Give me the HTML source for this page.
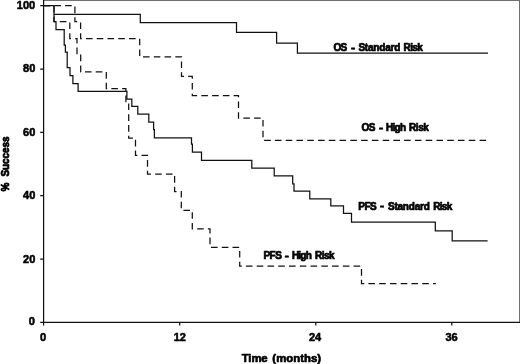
<!DOCTYPE html>
<html>
<head>
<meta charset="utf-8">
<title>Survival curves</title>
<style>
html,body{margin:0;padding:0;background:#fff;}
body{width:520px;height:364px;overflow:hidden;}
svg{display:block;}
text{font-family:"Liberation Sans",Arial,sans-serif;font-weight:bold;fill:#000;white-space:pre;stroke:#000;stroke-width:0.6px;stroke-linejoin:round;}
.ax{stroke:#111;stroke-width:1.25;fill:none;}
.fr{stroke:#707070;stroke-width:1;fill:none;}
.c{stroke:#111;stroke-width:1.25;fill:none;stroke-linejoin:miter;}
.d{stroke:#111;stroke-width:1.25;fill:none;stroke-dasharray:6.6 4.166;}
</style>
</head>
<body>
<svg width="520" height="364" viewBox="0 0 520 364">
<rect x="0" y="0" width="520" height="364" fill="#fff"/>
<!-- frame -->
<path class="fr" d="M43.6,0.5 H520 M519.5,0 V322.4"/>
<!-- axes -->
<path class="ax" d="M43.6,0 V325.6 M40.2,322.4 H520"/>
<!-- y ticks -->
<path class="ax" d="M40.2,5.6 H43.6 M40.2,69 H43.6 M40.2,132.3 H43.6 M40.2,195.7 H43.6 M40.2,259.1 H43.6"/>
<!-- x ticks -->
<path class="ax" d="M179.7,322.5 V325.6 M315.8,322.5 V325.6 M451.8,322.5 V325.6"/>
<!-- y axis title -->
<text transform="translate(9.1,191.5) rotate(-90) scale(0.9,1)" style="font-size:11px;stroke-width:0.8px"><tspan x="0">%</tspan> <tspan x="16.6">Success</tspan></text>
<!-- dashed curves -->
<path class="d" d="M43.6,5.6 H74.9 V21.6 H80.6 V38.6 H139.7 V56.9 H181.5 V76.4 H192.3 V95.5 H238.5 V118.1 H263 V140.3 H486"/>
<path class="d" d="M43.6,5.6 H54 V21.7 H69.8 V38.6 H77 V54.8 H80.7 V71.9 H106.3 V88.6 H125.9 V102.5 H128.7 V138.2 H135.5 V155.3 H147.5 V174 H174.6 V191.5 H181.3 V210.3 H192.3 V228.9 H210 V247.3 H239.7 V266.2 H361.5 V283.7 H435.8"/>
<!-- solid curves -->
<path class="c" d="M43.6,5.6 H54 V14.3 H140.3 V22.7 H236.5 V32.4 H276.6 V43.1 H297.4 V53.1 H488"/>
<path class="c" d="M54,14.3 V21.6 H56 V29.7 H64.2 V45.2 H65.4 V52.2 H67.2 V67.7 H70 V75.7 H72.9 V83.6 H78.1 V91.4 H126.9 V99.2 H131.8 V106.4 H137.8 V114.2 H148.8 V122.1 H153.6 V129.5 H154.4 V137.8 H191.5 V144 H192.4 V152.2 H201.5 V160.3 H251.8 V168.2 H274.2 V175.8 H292.7 V183.8 H294 V191.2 H309.8 V198.8 H330.8 V205.8 H343.5 V213.4 H351.5 V222.1 H435.3 V230.9 H452.2 V240.8 H487.6"/>
<!-- labels -->
<g><text x="333.40" y="50.60" transform="scale(1,1)" style="font-size:10px;stroke-width:0.7px;letter-spacing:-0.71px">OS</text> <text x="280.80" y="50.60" transform="scale(1.25,1)" style="font-size:10px;stroke-width:0.7px">-</text> <text x="358.39" y="50.60" transform="scale(1,1)" style="font-size:10px;stroke-width:0.7px;letter-spacing:-0.20px">Standard</text> <text x="403.56" y="50.60" transform="scale(1,1)" style="font-size:10px;stroke-width:0.7px;letter-spacing:-0.61px">Risk</text></g>
<g><text x="361.40" y="131.00" transform="scale(1,1)" style="font-size:10px;stroke-width:0.7px;letter-spacing:-0.47px">OS</text> <text x="303.20" y="131.00" transform="scale(1.25,1)" style="font-size:10px;stroke-width:0.7px">-</text> <text x="385.92" y="131.00" transform="scale(1,1)" style="font-size:10px;stroke-width:0.7px;letter-spacing:-0.68px">High</text> <text x="409.06" y="131.00" transform="scale(1,1)" style="font-size:10px;stroke-width:0.7px;letter-spacing:-0.44px">Risk</text></g>
<g><text x="358.24" y="209.50" transform="scale(1,1)" style="font-size:10px;stroke-width:0.7px;letter-spacing:-0.49px">PFS</text> <text x="304.07" y="209.50" transform="scale(1.25,1)" style="font-size:10px;stroke-width:0.7px">-</text> <text x="387.92" y="209.50" transform="scale(1,1)" style="font-size:10px;stroke-width:0.7px;letter-spacing:-0.20px">Standard</text> <text x="433.19" y="209.50" transform="scale(1,1)" style="font-size:10px;stroke-width:0.7px;letter-spacing:-0.68px">Risk</text></g>
<g><text x="263.42" y="258.70" transform="scale(1,1)" style="font-size:10px;stroke-width:0.7px;letter-spacing:-0.49px">PFS</text> <text x="227.89" y="258.70" transform="scale(1.25,1)" style="font-size:10px;stroke-width:0.7px">-</text> <text x="291.90" y="258.70" transform="scale(1,1)" style="font-size:10px;stroke-width:0.7px;letter-spacing:-0.79px">High</text> <text x="315.06" y="258.70" transform="scale(1,1)" style="font-size:10px;stroke-width:0.7px;letter-spacing:-0.51px">Risk</text></g>
<g><text x="232.48" y="361.70" transform="scale(1.04,1)" style="font-size:10.9px;stroke-width:0.65px;letter-spacing:-0.11px">Time</text> <text x="261.87" y="361.70" transform="scale(1.04,1)" style="font-size:10.9px;stroke-width:0.65px;letter-spacing:0.05px">(months)</text></g>
<g><text x="16.77" y="9.00" transform="scale(1,1)" style="font-size:11px;stroke-width:0.55px;letter-spacing:0.00px">100</text></g>
<g><text x="23.02" y="72.40" transform="scale(1,1)" style="font-size:11px;stroke-width:0.55px;letter-spacing:0.00px">80</text></g>
<g><text x="23.02" y="135.80" transform="scale(1,1)" style="font-size:11px;stroke-width:0.55px;letter-spacing:0.00px">60</text></g>
<g><text x="23.02" y="199.20" transform="scale(1,1)" style="font-size:11px;stroke-width:0.55px;letter-spacing:0.00px">40</text></g>
<g><text x="23.02" y="262.60" transform="scale(1,1)" style="font-size:11px;stroke-width:0.55px;letter-spacing:0.00px">20</text></g>
<g><text x="28.86" y="325.30" transform="scale(1,1)" style="font-size:11px;stroke-width:0.55px">0</text></g>
<g><text x="39.94" y="341.20" transform="scale(1,1)" style="font-size:11px;stroke-width:0.55px">0</text></g>
<g><text x="173.65" y="341.20" transform="scale(1,1)" style="font-size:11px;stroke-width:0.55px;letter-spacing:0.00px">12</text></g>
<g><text x="308.90" y="341.20" transform="scale(1,1)" style="font-size:11px;stroke-width:0.55px;letter-spacing:0.00px">24</text></g>
<g><text x="445.47" y="341.20" transform="scale(1,1)" style="font-size:11px;stroke-width:0.55px;letter-spacing:0.00px">36</text></g>
</svg>
</body>
</html>
